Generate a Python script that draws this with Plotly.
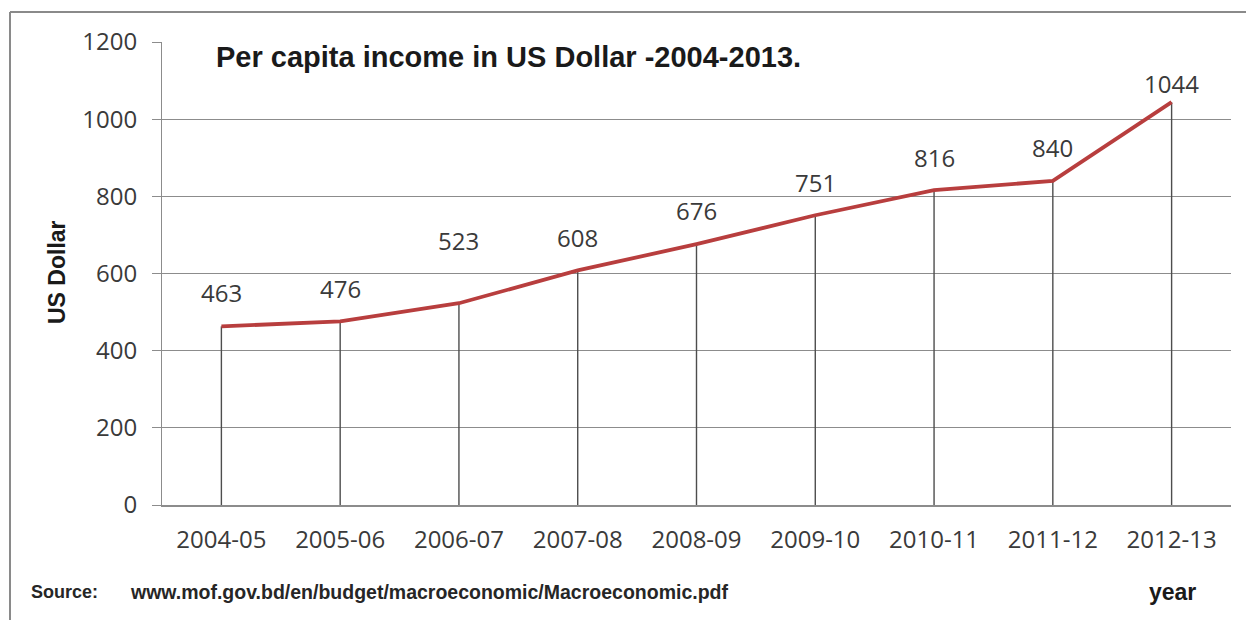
import plotly.graph_objects as go

# Fiscal years and per capita income (US$)
years = ["2004-05", "2005-06", "2006-07", "2007-08", "2008-09",
         "2009-10", "2010-11", "2011-12", "2012-13"]
income = [463, 476, 523, 608, 676, 751, 816, 840, 1044]
y_ticks = [0, 200, 400, 600, 800, 1000, 1200]

# vertical lift (px) of each value label above its point
label_lift = [34, 33, 63, 33, 34, 33, 33, 33, 19]

W, H = 1246, 620
L, R, T, B = 162, 15, 42, 115

fig = go.Figure()

# drop lines from each point down to the axis
fig.add_trace(go.Scatter(
    x=years, y=income, mode="markers",
    marker=dict(size=1, color="rgba(0,0,0,0)"),
    error_y=dict(type="data", symmetric=False,
                 array=[0] * len(income), arrayminus=income,
                 width=0, thickness=1.4, color="#4d4d4d"),
    hoverinfo="skip", showlegend=False,
))

# income line
fig.add_trace(go.Scatter(
    x=years, y=income, mode="lines",
    line=dict(color="#B83E3E", width=3.8),
    showlegend=False,
))

tick_font = dict(family="Open Sans, Liberation Sans, Arial", size=24, color="#3a3a3a")

annotations = []
for yr, v, lift in zip(years, income, label_lift):
    annotations.append(dict(
        x=yr, y=v, xref="x", yref="y", text=str(v), showarrow=False,
        xanchor="center", yanchor="middle", yshift=lift, font=tick_font,
    ))


def px_x(p):
    return (p - L) / (W - L - R)


def px_y(p):
    return (H - B - p) / (H - T - B)


bold = "Liberation Sans, Arial"
annotations += [
    dict(x=px_x(214), y=px_y(57), xref="paper", yref="paper",
         text="<b>Per capita income in US Dollar -2004-2013.</b>",
         showarrow=False, xanchor="left", yanchor="middle",
         font=dict(family=bold, size=29, color="#1a1a1a")),
    dict(x=px_x(57), y=px_y(272), xref="paper", yref="paper",
         text="<b>US Dollar</b>", textangle=-90, showarrow=False,
         xanchor="center", yanchor="middle",
         font=dict(family=bold, size=23, color="#1a1a1a")),
    dict(x=px_x(29), y=px_y(592), xref="paper", yref="paper",
         text="<b>Source:</b>", showarrow=False,
         xanchor="left", yanchor="middle",
         font=dict(family=bold, size=18, color="#262626")),
    dict(x=px_x(128), y=px_y(592), xref="paper", yref="paper",
         text="<b>www.mof.gov.bd/en/budget/macroeconomic/Macroeconomic.pdf</b>",
         showarrow=False, xanchor="left", yanchor="middle",
         font=dict(family=bold, size=19.5, color="#262626")),
    dict(x=px_x(1172), y=px_y(592), xref="paper", yref="paper",
         text="<b>year</b>", showarrow=False,
         xanchor="center", yanchor="middle",
         font=dict(family=bold, size=23, color="#1a1a1a")),
]

# chart frame: top and left edges
shapes = [
    dict(type="line", xref="paper", yref="paper",
         x0=px_x(10), x1=px_x(W + 5), y0=px_y(12), y1=px_y(12),
         line=dict(color="#8a8a8a", width=2)),
    dict(type="line", xref="paper", yref="paper",
         x0=px_x(10), x1=px_x(10), y0=px_y(12), y1=px_y(H + 5),
         line=dict(color="#8a8a8a", width=2)),
]

fig.update_layout(
    width=W, height=H,
    margin=dict(l=L, r=R, t=T, b=B),
    paper_bgcolor="white", plot_bgcolor="white",
    annotations=annotations, shapes=shapes,
    xaxis=dict(
        type="category", range=[-0.5, len(years) - 0.5],
        showgrid=False, showline=True, linecolor="#8c8c8c", linewidth=1.5,
        ticks="", tickfont=tick_font, ticklabelstandoff=12,
        zeroline=False,
    ),
    yaxis=dict(
        range=[0, 1200], tickvals=y_ticks,
        showgrid=True, gridcolor="#8c8c8c", gridwidth=1,
        showline=True, linecolor="#8c8c8c", linewidth=1,
        ticks="outside", ticklen=9, tickcolor="#8c8c8c",
        tickfont=tick_font, ticklabelstandoff=10, zeroline=False,
    ),
)

fig.write_html("out.html")
